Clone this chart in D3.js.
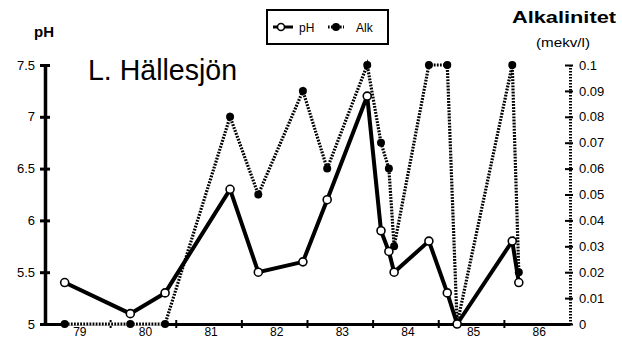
<!DOCTYPE html>
<html>
<head>
<meta charset="utf-8">
<script src="https://cdn.jsdelivr.net/npm/d3@7"></script>
<style>
  body { margin: 0; background: #fff; }
  text { font-family: "Liberation Sans", Arial, sans-serif; fill: #000; }
</style>
</head>
<body>
<div id="chart"></div>
<script>
const dates = [1979.30, 1980.30, 1980.83, 1981.82, 1982.25, 1982.93, 1983.30, 1983.91, 1984.12, 1984.24, 1984.32, 1984.85, 1985.13, 1985.28, 1986.12, 1986.22];
const phValues = [5.4, 5.1, 5.3, 6.3, 5.5, 5.6, 6.2, 7.2, 5.9, 5.7, 5.5, 5.8, 5.3, 5.0, 5.8, 5.4];
const alkValues = [0, 0, 0, 0.08, 0.05, 0.09, 0.06, 0.1, 0.07, 0.06, 0.03, 0.1, 0.1, 0, 0.1, 0.02];
const years = [79, 80, 81, 82, 83, 84, 85, 86];
const phTicks = [5, 5.5, 6, 6.5, 7, 7.5];
const alkTicks = [0, 0.01, 0.02, 0.03, 0.04, 0.05, 0.06, 0.07, 0.08, 0.09, 0.1];

const width = 622, height = 339;
const margin = { top: 65, right: 52, bottom: 15, left: 45 };
const innerW = width - margin.left - margin.right;
const innerH = height - margin.top - margin.bottom;

const svg = d3.select('#chart').append('svg')
  .attr('width', width)
  .attr('height', height);

const g = svg.append('g')
  .attr('transform', `translate(${margin.left},${margin.top})`);

const x = d3.scaleLinear().domain([1979, 1987]).range([0, innerW]);
const yPh = d3.scaleLinear().domain([5, 7.5]).range([innerH, 0]);
const yAlk = d3.scaleLinear().domain([0, 0.1]).range([innerH, 0]);

// bottom axis: ticks at year boundaries, labels centred in each year
const xAxis = g.append('g')
  .attr('transform', `translate(0,${innerH})`)
  .call(d3.axisBottom(x).tickValues(d3.range(1979, 1988)).tickSize(0).tickFormat(''));
xAxis.select('.domain').attr('stroke', '#000').attr('stroke-width', 3);
xAxis.selectAll('.tk').data(d3.range(1980, 1987)).enter().append('line')
  .attr('x1', d => x(d)).attr('x2', d => x(d))
  .attr('y1', -4).attr('y2', 4)
  .attr('stroke', '#000').attr('stroke-width', 2);
xAxis.selectAll('.yl').data(years).enter().append('text')
  .attr('x', d => x(1900 + d + 0.5) + 2)
  .attr('y', 12)
  .attr('text-anchor', 'middle')
  .attr('font-size', '12px')
  .text(d => d);

// left pH axis
const yAxisL = g.append('g')
  .call(d3.axisLeft(yPh).tickValues(phTicks).tickSize(0).tickPadding(10).tickFormat(d => d));
yAxisL.select('.domain').attr('stroke', '#000').attr('stroke-width', 3.5);
yAxisL.selectAll('.tick text').attr('font-size', '13px').attr('font-family', 'Liberation Sans');
yAxisL.selectAll('.tick').append('line')
  .attr('x1', -5).attr('x2', 5)
  .attr('stroke', '#000').attr('stroke-width', 3);

// right alkalinity axis (dotted)
const yAxisR = g.append('g')
  .attr('transform', `translate(${innerW},0)`)
  .call(d3.axisRight(yAlk).tickValues(alkTicks).tickSize(0).tickPadding(9).tickFormat(d => d));
yAxisR.select('.domain').attr('stroke', '#000').attr('stroke-width', 3).attr('stroke-dasharray', '1.6,1.4');
yAxisR.selectAll('.tick text').attr('font-size', '13px').attr('font-family', 'Liberation Sans');
yAxisR.selectAll('.tick').append('line')
  .attr('x1', -5).attr('x2', 3)
  .attr('stroke', '#000').attr('stroke-width', 2);

const pts = dates.map((d, i) => ({ date: d, ph: phValues[i], alk: alkValues[i] }));

// alkalinity: dotted line with filled markers
const alkLine = d3.line().x(d => x(d.date)).y(d => yAlk(d.alk));
g.append('path').datum(pts)
  .attr('d', alkLine)
  .attr('fill', 'none')
  .attr('stroke', '#fff')
  .attr('stroke-width', 3.5);
g.append('path').datum(pts)
  .attr('d', alkLine)
  .attr('fill', 'none')
  .attr('stroke', '#000')
  .attr('stroke-width', 3.2)
  .attr('stroke-dasharray', '1.8,1.3');

// pH: thick solid line with open circles
const phLine = d3.line().x(d => x(d.date)).y(d => yPh(d.ph));
g.append('path').datum(pts)
  .attr('d', phLine)
  .attr('fill', 'none')
  .attr('stroke', '#000')
  .attr('stroke-width', 4);

g.selectAll('.alkpt').data(pts).enter().append('circle')
  .attr('cx', d => x(d.date))
  .attr('cy', d => yAlk(d.alk))
  .attr('r', 4)
  .attr('fill', '#000');

g.selectAll('.phpt').data(pts).enter().append('circle')
  .attr('cx', d => x(d.date))
  .attr('cy', d => yPh(d.ph))
  .attr('r', 4)
  .attr('fill', '#fff')
  .attr('stroke', '#000')
  .attr('stroke-width', 1.6);

// titles
svg.append('text')
  .attr('x', 88).attr('y', 80)
  .attr('font-size', '29px')
  .attr('textLength', 149)
  .attr('lengthAdjust', 'spacingAndGlyphs')
  .text('L. Hällesjön');

svg.append('text')
  .attr('x', 34).attr('y', 37)
  .attr('font-size', '15px')
  .attr('font-weight', 'bold')
  .text('pH');

svg.append('text')
  .attr('x', 512).attr('y', 23)
  .attr('font-size', '16px')
  .attr('font-weight', 'bold')
  .attr('textLength', 104)
  .attr('lengthAdjust', 'spacingAndGlyphs')
  .text('Alkalinitet');

svg.append('text')
  .attr('x', 536).attr('y', 47)
  .attr('font-size', '12px')
  .attr('textLength', 54)
  .attr('lengthAdjust', 'spacingAndGlyphs')
  .text('(mekv/l)');

// legend
const legend = svg.append('g');
legend.append('rect')
  .attr('x', 267).attr('y', 10)
  .attr('width', 121).attr('height', 34)
  .attr('fill', '#fff')
  .attr('stroke', '#000')
  .attr('stroke-width', 2);
legend.append('line')
  .attr('x1', 273).attr('x2', 293).attr('y1', 27).attr('y2', 27)
  .attr('stroke', '#000').attr('stroke-width', 3);
legend.append('circle')
  .attr('cx', 281).attr('cy', 27).attr('r', 3.5)
  .attr('fill', '#fff').attr('stroke', '#000').attr('stroke-width', 1.6);
legend.append('text')
  .attr('x', 299).attr('y', 32)
  .attr('font-size', '12px')
  .text('pH');
legend.append('line')
  .attr('x1', 328).attr('x2', 344).attr('y1', 27).attr('y2', 27)
  .attr('stroke', '#000').attr('stroke-width', 3).attr('stroke-dasharray', '1.6,1.4');
legend.append('circle')
  .attr('cx', 336).attr('cy', 27).attr('r', 4)
  .attr('fill', '#000');
legend.append('text')
  .attr('x', 356).attr('y', 32)
  .attr('font-size', '12px')
  .text('Alk');
</script>
</body>
</html>
